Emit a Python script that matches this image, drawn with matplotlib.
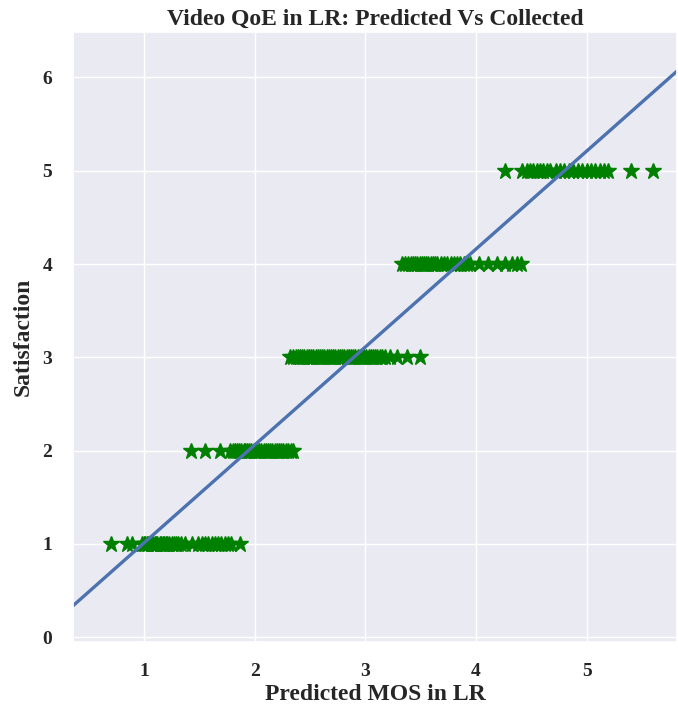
import matplotlib
matplotlib.use("Agg")
import matplotlib.pyplot as plt
import seaborn as sns
import numpy as np

# ---- data ----
pred_lvl1 = [0.70, 0.85, 0.89, 0.98, 1.00, 1.01, 1.03, 1.04, 1.06, 1.07, 1.08, 1.10, 1.11,
             1.12, 1.14, 1.15, 1.17, 1.18, 1.20, 1.21, 1.23, 1.25, 1.27, 1.29, 1.31, 1.33,
             1.37, 1.43, 1.49, 1.52, 1.55, 1.58, 1.61, 1.64, 1.67, 1.70, 1.73, 1.76, 1.79, 1.87]
pred_lvl2 = [1.42, 1.55, 1.69, 1.78, 1.80, 1.82, 1.84, 1.86, 1.88, 1.90, 1.91, 1.93, 1.95,
             1.97, 1.99, 2.00, 2.02, 2.04, 2.06, 2.08, 2.10, 2.12, 2.14, 2.16, 2.18, 2.20,
             2.22, 2.24, 2.26, 2.28, 2.30, 2.33, 2.35]
pred_lvl3 = [2.32, 2.35, 2.37, 2.39, 2.41, 2.43, 2.45, 2.47, 2.49, 2.51, 2.53, 2.55, 2.57,
             2.59, 2.61, 2.63, 2.65, 2.67, 2.69, 2.71, 2.73, 2.75, 2.77, 2.79, 2.81, 2.83,
             2.85, 2.87, 2.89, 2.91, 2.93, 2.95, 2.97, 2.99, 3.01, 3.03, 3.05, 3.07, 3.09,
             3.11, 3.13, 3.15, 3.18, 3.22, 3.29, 3.38, 3.49]
pred_lvl4 = [3.33, 3.36, 3.39, 3.41, 3.43, 3.45, 3.47, 3.49, 3.51, 3.53, 3.55, 3.57, 3.59,
             3.61, 3.63, 3.65, 3.68, 3.71, 3.74, 3.77, 3.80, 3.83, 3.86, 3.89, 3.92, 3.95,
             4.03, 4.11, 4.19, 4.26, 4.33, 4.37, 4.41]
pred_lvl5 = [4.26, 4.42, 4.46, 4.49, 4.52, 4.55, 4.58, 4.61, 4.64, 4.67, 4.72, 4.76, 4.80,
             4.84, 4.88, 4.92, 4.96, 5.00, 5.04, 5.08, 5.12, 5.16, 5.19, 5.40, 5.60]
satisfaction_levels = [1, 2, 3, 4, 5]

fit_slope = 1.05
fit_intercept = -0.04

x_ticks = [1, 2, 3, 4, 5]
y_ticks = [0, 1, 2, 3, 4, 5, 6]

# ---- style ----
sns.set_theme(style="darkgrid")
plt.rcParams['font.family'] = ['Liberation Serif', 'DejaVu Serif']
plt.rcParams['font.weight'] = 'bold'

fig = plt.figure(figsize=(6.78, 7.06), dpi=100)
ax = fig.add_axes([0.108, 0.091, 0.891, 0.864])

groups = [pred_lvl1, pred_lvl2, pred_lvl3, pred_lvl4, pred_lvl5]
for xs, lvl in zip(groups, satisfaction_levels):
    ax.plot(xs, [lvl] * len(xs), linestyle='none', marker='*', markersize=12,
            color='green')

xlim = (0.36, 5.82)
line_x = np.array(xlim)
ax.plot(line_x, fit_intercept + fit_slope * line_x, color='#4C72B0', linewidth=2.4)

ax.set_xlim(*xlim)
ax.set_ylim(-0.05, 6.49)
ax.set_xticks(x_ticks)
ax.set_yticks(y_ticks)
ax.tick_params(axis='both', labelsize=14, colors='#262626', pad=9)
for lab in ax.get_xticklabels() + ax.get_yticklabels():
    lab.set_fontweight('bold')

ax.set_title('Video QoE in LR: Predicted Vs Collected', fontsize=17, fontweight='bold',
             color='#262626', pad=5)
ax.set_xlabel('Predicted MOS in LR', fontsize=17, fontweight='bold', color='#262626', labelpad=3)
ax.set_ylabel('Satisfaction', fontsize=17, fontweight='bold', color='#262626', labelpad=6)

fig.savefig('out.png', dpi=100)
